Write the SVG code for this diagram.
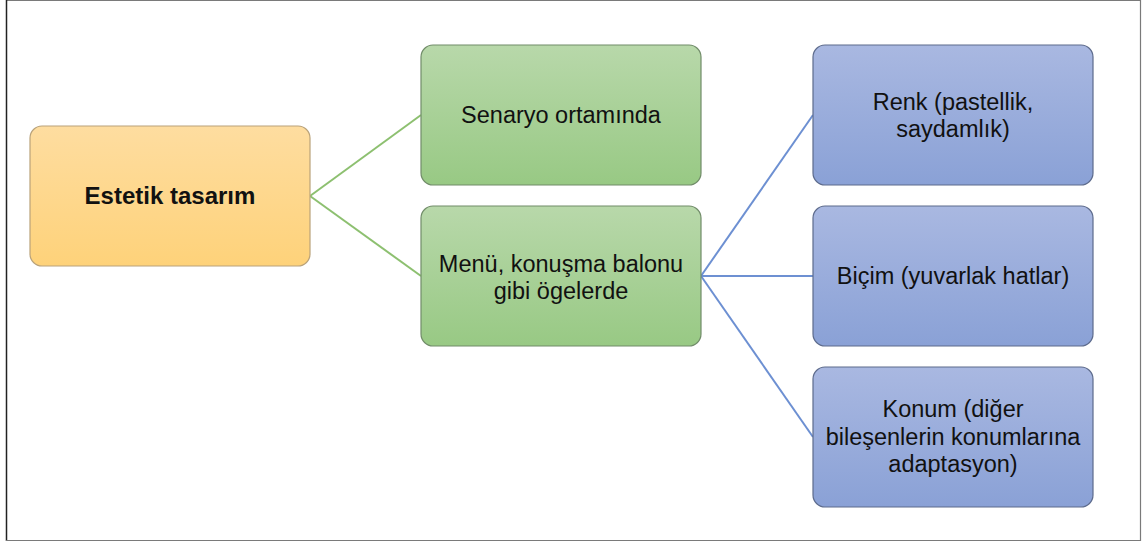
<svg xmlns="http://www.w3.org/2000/svg" width="1145" height="542" viewBox="0 0 1145 542">
<defs>
<linearGradient id="gOrange" x1="0" y1="0" x2="0" y2="1"><stop offset="0" stop-color="#fedda0"/><stop offset="1" stop-color="#fed27a"/></linearGradient>
<linearGradient id="gGreen" x1="0" y1="0" x2="0" y2="1"><stop offset="0" stop-color="#b8d8aa"/><stop offset="1" stop-color="#98c984"/></linearGradient>
<linearGradient id="gBlue" x1="0" y1="0" x2="0" y2="1"><stop offset="0" stop-color="#a9b8e1"/><stop offset="1" stop-color="#8aa1d6"/></linearGradient>
<style>
.t{font-family:"Liberation Sans",Arial,sans-serif;font-size:23.5px;fill:#111;text-anchor:middle}
.b{font-weight:bold;font-size:24px}
.o{fill:url(#gOrange);stroke:#b9a27a;stroke-width:1.2}
.g{fill:url(#gGreen);stroke:#718c69;stroke-width:1.2}
.u{fill:url(#gBlue);stroke:#5d6b8c;stroke-width:1.2}
.cg{stroke:#8dc070;stroke-width:2;fill:none}
.cb{stroke:#6d90d2;stroke-width:2;fill:none}
</style>
</defs>
<rect x="0" y="0" width="1145" height="542" fill="#fff"/>
<g id="frame">
<line x1="6" y1="0.5" x2="1141" y2="0.5" stroke="#7a7a7a" stroke-width="1"/>
<line x1="6.5" y1="0" x2="6.5" y2="541" stroke="#222" stroke-width="1.5"/>
<line x1="1140.5" y1="0" x2="1140.5" y2="541" stroke="#7a7a7a" stroke-width="1.2"/>
<line x1="6" y1="540.5" x2="1141" y2="540.5" stroke="#7a7a7a" stroke-width="1.2"/>
</g>
<g id="connectors">
<line class="cg" x1="310" y1="196" x2="421" y2="115"/>
<line class="cg" x1="310" y1="196" x2="421" y2="276"/>
<line class="cb" x1="701" y1="276" x2="813" y2="115"/>
<line class="cb" x1="701" y1="276" x2="813" y2="276"/>
<line class="cb" x1="701" y1="276" x2="813" y2="437"/>
</g>
<g id="n-estetik">
<rect class="o" x="30" y="126" width="280" height="140" rx="12"/>
<text class="t b" x="170" y="204">Estetik tasarım</text>
</g>
<g id="n-senaryo">
<rect class="g" x="421" y="45" width="280" height="140" rx="12"/>
<text class="t" x="561" y="123">Senaryo ortamında</text>
</g>
<g id="n-menu">
<rect class="g" x="421" y="206" width="280" height="140" rx="12"/>
<text class="t" x="561" y="272">Menü, konuşma balonu</text>
<text class="t" x="561" y="299">gibi ögelerde</text>
</g>
<g id="n-renk">
<rect class="u" x="813" y="45" width="280" height="140" rx="12"/>
<text class="t" x="953" y="110">Renk (pastellik,</text>
<text class="t" x="953" y="137">saydamlık)</text>
</g>
<g id="n-bicim">
<rect class="u" x="813" y="206" width="280" height="140" rx="12"/>
<text class="t" x="953" y="284">Biçim (yuvarlak hatlar)</text>
</g>
<g id="n-konum">
<rect class="u" x="813" y="367" width="280" height="140" rx="12"/>
<text class="t" x="953" y="417">Konum (diğer</text>
<text class="t" x="953" y="445">bileşenlerin konumlarına</text>
<text class="t" x="953" y="472">adaptasyon)</text>
</g>
</svg>
